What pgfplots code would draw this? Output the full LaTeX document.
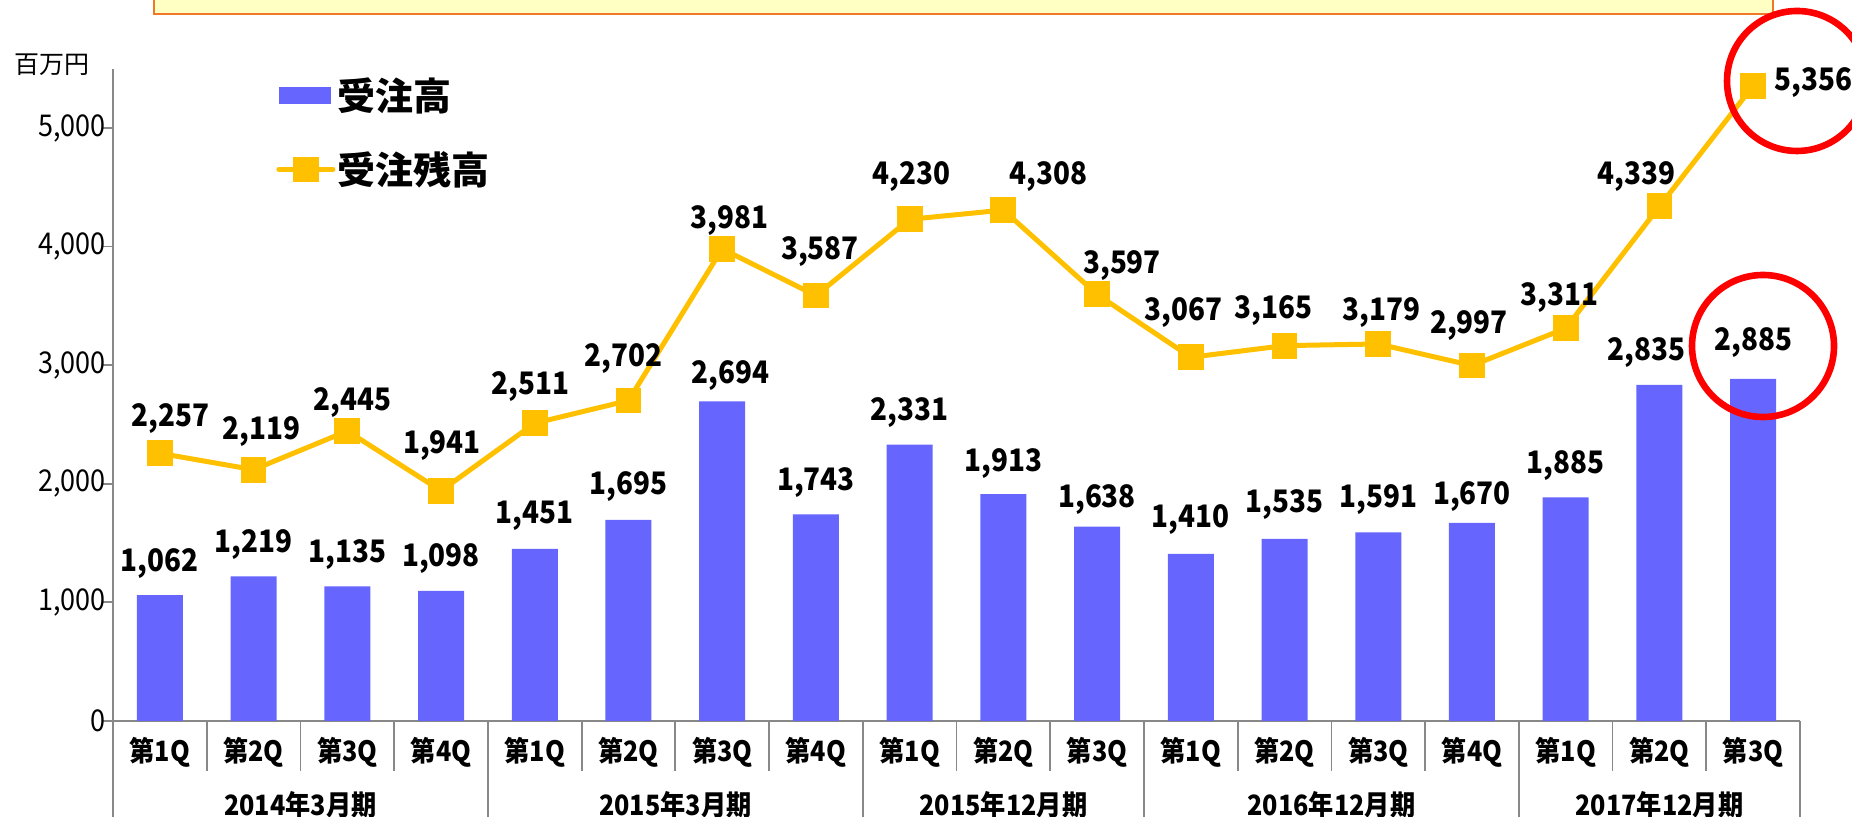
\documentclass[border=0pt]{standalone}
\usepackage{pgfplots}
\pgfplotsset{compat=1.18}
\usepackage{pgfplotstable}
\usepackage{fontspec}
\setmainfont{Noto Sans CJK JP}[FakeStretch=0.9]
\newfontfamily\jp{Noto Sans CJK JP}
\definecolor{barblue}{HTML}{6666FF}
\definecolor{lineyel}{HTML}{FFC000}
\definecolor{axgray}{HTML}{888888}
\definecolor{boxfill}{HTML}{FFFFC4}
\definecolor{boxdraw}{HTML}{F07828}
\newcommand{\lab}{\fontsize{15.5pt}{18pt}\selectfont\bfseries}
\pgfplotstableread{
x bar bdx bdy line ldx ldy
0 1062 0 15.5 2257 5.5 17.5
1 1219 0 16 2119 4 19
2 1135 0 16 2445 2.5 14
3 1098 0 16 1941 0.5 22.5
4 1451 0 16.5 2511 -2 18.5
5 1695 0 16.5 2702 -2.5 21
6 2694 4 13 3981 3.5 14
7 1743 0 16 3587 2 22
8 2331 0 16 4230 1 21.5
9 1913 0 15.5 4308 22.5 17
10 1638 0 13.5 3597 12.5 14.5
11 1410 0 17 3067 -3.5 22.5
12 1535 0 17 3165 -5.5 17.5
13 1591 0 16.5 3179 1.5 15.5
14 1670 0 13 2997 -1.5 20
15 1885 0 16 3311 -3 15.5
16 2835 -6.5 16 4339 -11.5 15
17 2885 0 18 5356 30 1.5
}\data
\begin{document}
\begin{tikzpicture}
\useasboundingbox (0,0) rectangle (926pt,408.5pt);
\draw[fill=boxfill, draw=boxdraw, line width=1.2pt] (77pt,401.5pt) rectangle (886.5pt,420pt);
\node[font=\jp\fontsize{12.5pt}{14pt}\selectfont, inner sep=0pt] at (26pt,376pt) {百万円};
\begin{axis}[
  at={(56.5pt,48pt)}, anchor=south west,
  scale only axis, width=843.5pt, height=326.15pt,
  xmin=-0.5, xmax=17.5, ymin=0, ymax=5500,
  axis x line*=bottom, axis y line*=left,
  axis line style={draw=axgray, line width=0.9pt},
  clip=false,
  ytick={0,1000,2000,3000,4000,5000},
  ytick align=outside, major tick length=5pt,
  ytick style={draw=axgray, line width=0.9pt},
  yticklabel style={font=\fontsize{15pt}{17pt}\selectfont, inner sep=0pt, anchor=east, xshift=1.5pt},
  /pgf/number format/.cd, assume math mode=true, 1000 sep={,}, /pgfplots/.cd,
  xtick={0,...,17},
  xticklabels={第1Q,第2Q,第3Q,第4Q,第1Q,第2Q,第3Q,第4Q,第1Q,第2Q,第3Q,第1Q,第2Q,第3Q,第4Q,第1Q,第2Q,第3Q},
  xtick style={draw=none},
  xticklabel style={font=\fontsize{14pt}{16pt}\selectfont\bfseries, inner sep=0pt, anchor=center, yshift=-15.5pt},
  legend style={at={(0.0966,0.99)}, anchor=north west, draw=none, fill=none, inner sep=0pt,
    row sep=17pt, font=\jp\fontsize{19pt}{22pt}\selectfont\bfseries,
    nodes={inner sep=1pt}, /tikz/every even column/.append style={column sep=3pt}},
  legend cell align=left,
]
\addplot[ybar, bar width=23pt, fill=barblue, draw=none,
  point meta=y,
  nodes near coords={\pgfmathprintnumber[assume math mode=true,fixed,precision=0,1000 sep={,}]{\pgfplotspointmeta}},
  visualization depends on={\thisrow{bdx}\as\bdx},
  visualization depends on={\thisrow{bdy}\as\bdy},
  every node near coord/.append style={anchor=center, inner sep=0pt, xshift=\bdx pt, yshift=\bdy pt, font=\lab, text=black},
  legend image code/.code={\fill[barblue] (0pt,-4.25pt) rectangle (26pt,4.25pt);}
] table[x=x, y=bar] {\data};
\addlegendentry{受注高}
\addplot[color=lineyel, line width=2.5pt, mark=square*, mark size=5.2pt,
  mark options={draw=none, fill=lineyel},
  point meta=y,
  nodes near coords={\pgfmathprintnumber[assume math mode=true,fixed,precision=0,1000 sep={,}]{\pgfplotspointmeta}},
  visualization depends on={\thisrow{ldx}\as\ldx},
  visualization depends on={\thisrow{ldy}\as\ldy},
  every node near coord/.append style={anchor=center, inner sep=0pt, xshift=\ldx pt, yshift=\ldy pt, font=\lab, text=black},
  legend image code/.code={\draw[lineyel, line width=2.5pt, line cap=round] (0pt,0pt) -- (27pt,0pt); \fill[lineyel] (8.5pt,-5pt) rectangle (19pt,5pt);}
] table[x=x, y=line] {\data};
\addlegendentry{受注残高}
\pgfplotsinvokeforeach{0.5,1.5,2.5,4.5,5.5,6.5,8.5,9.5,11.5,12.5,13.5,15.5,16.5}{
  \draw[axgray, line width=0.9pt] (axis cs:#1,0) -- ++(0pt,-25pt);
}
\pgfplotsinvokeforeach{-0.5,3.5,7.5,10.5,14.5,17.5}{
  \draw[axgray, line width=0.9pt] (axis cs:#1,0) -- ++(0pt,-60pt);
}
\node[font=\fontsize{14pt}{16pt}\selectfont\bfseries, inner sep=0pt, yshift=-42pt] at (axis cs:1.5,0) {2014年3月期};
\node[font=\fontsize{14pt}{16pt}\selectfont\bfseries, inner sep=0pt, yshift=-42pt] at (axis cs:5.5,0) {2015年3月期};
\node[font=\fontsize{14pt}{16pt}\selectfont\bfseries, inner sep=0pt, yshift=-42pt] at (axis cs:9,0) {2015年12月期};
\node[font=\fontsize{14pt}{16pt}\selectfont\bfseries, inner sep=0pt, yshift=-42pt] at (axis cs:12.5,0) {2016年12月期};
\node[font=\fontsize{14pt}{16pt}\selectfont\bfseries, inner sep=0pt, yshift=-42pt] at (axis cs:16,0) {2017年12月期};
\end{axis}
\draw[red, line width=3.3pt] (898.5pt,368pt) circle (35pt);
\draw[red, line width=3.3pt] (881.5pt,235.5pt) circle (35.5pt);
\end{tikzpicture}
\end{document}
